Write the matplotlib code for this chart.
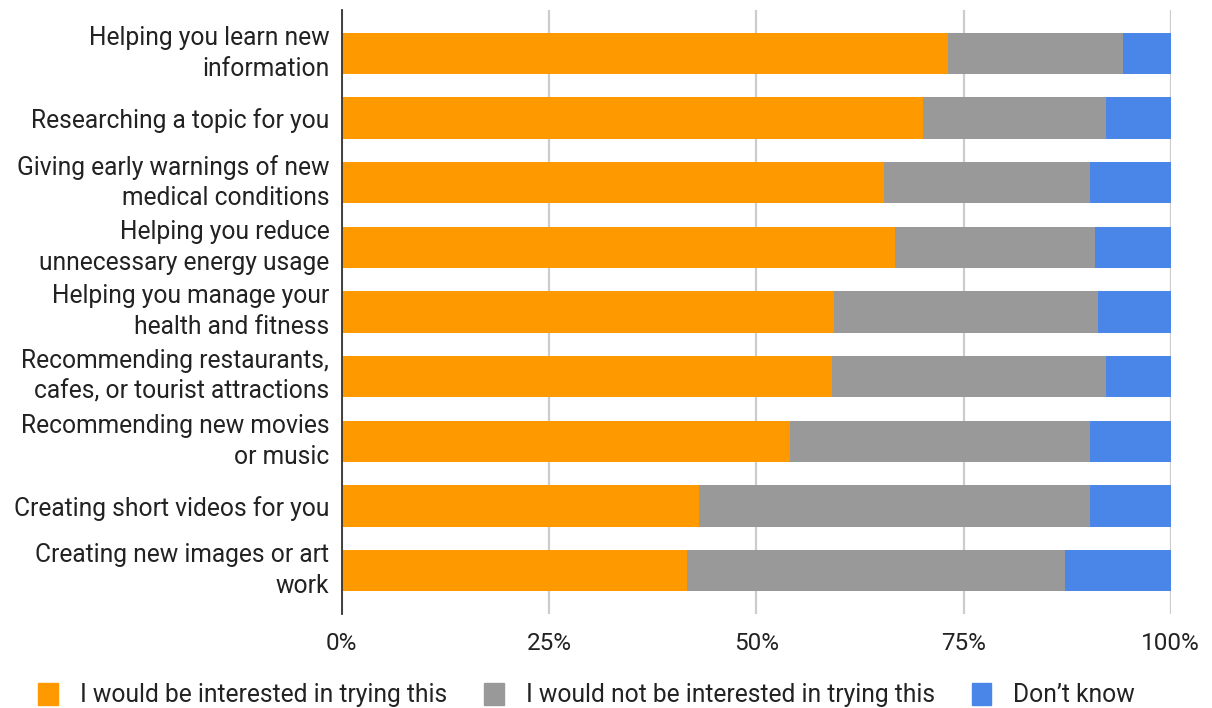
import matplotlib
matplotlib.use("Agg")
import matplotlib.pyplot as plt
from matplotlib.patches import Patch
import numpy as np

plt.rcParams['font.family'] = ['Roboto', 'DejaVu Sans']

categories = [
    "Helping you learn new\ninformation",
    "Researching a topic for you",
    "Giving early warnings of new\nmedical conditions",
    "Helping you reduce\nunnecessary energy usage",
    "Helping you manage your\nhealth and fitness",
    "Recommending restaurants,\ncafes, or tourist attractions",
    "Recommending new movies\nor music",
    "Creating short videos for you",
    "Creating new images or art\nwork",
]
interested = [73.1, 70.1, 65.4, 66.7, 59.4, 59.1, 54.1, 43.1, 41.6]
not_interested = [21.1, 22.1, 24.8, 24.2, 31.8, 33.1, 36.1, 47.1, 45.6]
dont_know = [5.8, 7.8, 9.8, 9.1, 8.8, 7.8, 9.8, 9.8, 12.8]

series_names = [
    "I would be interested in trying this",
    "I would not be interested in trying this",
    "Don\u2019t know",
]
colors = ["#ff9900", "#999999", "#4a86e8"]

fig = plt.figure(figsize=(12.12, 7.08), dpi=100)
ax = fig.add_axes([0.282, 0.133, 0.684, 0.853])

y = np.arange(len(categories))
left = np.zeros(len(categories))
for vals, c in zip([interested, not_interested, dont_know], colors):
    ax.barh(y, vals, left=left, height=0.64, color=c, zorder=3)
    left += np.array(vals)

ax.set_xlim(0, 100)
ax.set_ylim(len(categories) - 0.33, -0.67)
ax.set_yticks(y)
ax.set_yticklabels(categories, fontsize=17.7, color="#222222", linespacing=1.36)
# two-line labels sit centred on the bar, single lines on their baseline
for lbl in ax.get_yticklabels():
    if "\n" in lbl.get_text():
        lbl.set_verticalalignment("center")
ax.set_xticks([0, 25, 50, 75, 100])
ax.set_xticklabels(["0%", "25%", "50%", "75%", "100%"], fontsize=17.5, color="#222222")
ax.tick_params(axis="both", length=0)
ax.tick_params(axis="y", pad=9)
ax.tick_params(axis="x", pad=13)

ax.grid(axis="x", color="#cccccc", linewidth=1.6, zorder=0)
for s in ["top", "right", "bottom"]:
    ax.spines[s].set_visible(False)
ax.spines["left"].set_color("#333333")
ax.spines["left"].set_linewidth(1.3)
ax.spines["left"].set_zorder(4)

handles = [Patch(facecolor=c, edgecolor=c) for c in colors]
fig.legend(handles, series_names, loc="lower center", ncol=3,
           bbox_to_anchor=(0.484, -0.03), frameon=False, fontsize=17.7,
           handlelength=0.8, handleheight=1.0, handletextpad=0.9,
           columnspacing=1.5, labelcolor="#222222")

fig.savefig("out.png", dpi=100)
